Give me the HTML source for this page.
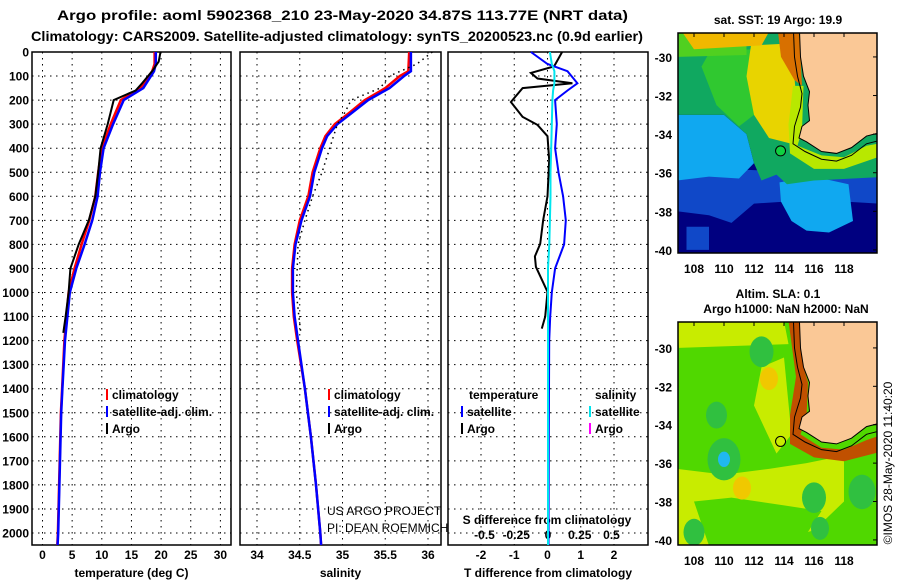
<!DOCTYPE html>
<html><head><meta charset="utf-8"><style>
html,body{margin:0;padding:0;background:#fff;}
svg{display:block;font-family:"Liberation Sans",Arial,sans-serif;font-weight:bold;}
</style></head><body>
<svg id="c" width="900" height="580" viewBox="0 0 900 580" xmlns="http://www.w3.org/2000/svg">
<text x="57" y="20" font-size="14" textLength="571" lengthAdjust="spacingAndGlyphs">Argo profile: aoml 5902368_210 23-May-2020 34.87S 113.77E (NRT data)</text>
<text x="31" y="41" font-size="14" textLength="612" lengthAdjust="spacingAndGlyphs">Climatology: CARS2009. Satellite-adjusted climatology: synTS_20200523.nc (0.9d earlier)</text>
<text x="778" y="24" font-size="12" text-anchor="middle">sat. SST: 19 Argo: 19.9</text>
<text x="778" y="298" font-size="12" text-anchor="middle">Altim. SLA: 0.1</text>
<text x="786" y="313" font-size="12" text-anchor="middle">Argo h1000: NaN h2000: NaN</text>
<text x="0" y="0" font-size="12" font-weight="normal" text-anchor="middle" transform="translate(892,463) rotate(-90)">©IMOS 28-May-2020 11:40:20</text>
<g id="g"></g>
</svg>
<script>
// ---------- data ----------
const tDepthArgo=[0,40,80,100,130,160,200,250,300,400,500,600,700,800,900,1000,1100,1168];
const tArgo=[19.9,19.6,18.5,17.8,16.8,15.7,12.0,11.5,11.0,9.8,9.4,8.9,7.8,6.1,4.7,4.4,3.9,3.5];
const tDepthClim=[0,50,80,150,200,300,400,500,600,700,800,900,1000,1200,1400,1500,1700,2000,2050];
const tClim=[18.9,18.9,18.5,16.5,13.2,11.5,10.0,9.4,8.9,7.9,6.6,5.4,4.4,3.7,3.3,3.1,2.9,2.6,2.5];
const tSat=[19.1,19.1,18.8,17.0,13.7,11.9,10.3,9.7,9.3,8.4,7.1,5.7,4.6,3.8,3.35,3.15,2.95,2.65,2.55];
const sDepthArgo=[0,50,100,150,200,250,300,400,500,600,700,800,900,1000,1100,1160];
const sArgo=[36.05,35.87,35.55,35.44,35.10,35.03,34.94,34.85,34.76,34.65,34.56,34.48,34.47,34.46,34.49,34.51];
const sDepthClim=[0,80,100,150,200,250,300,350,400,500,600,700,800,900,1000,1100,1200,1400,1600,1800,2000,2050];
const sClim=[35.78,35.77,35.67,35.50,35.26,35.09,34.91,34.80,34.74,34.65,34.60,34.50,34.44,34.41,34.41,34.43,34.47,34.56,34.63,34.69,34.74,34.75];
const sSat=[35.80,35.80,35.72,35.55,35.30,35.12,34.94,34.82,34.76,34.67,34.62,34.52,34.45,34.42,34.42,34.44,34.48,34.56,34.63,34.69,34.74,34.75];
const dDepthArgo=[0,60,87,110,130,150,208,270,303,350,450,600,698,798,850,893,997,1100,1150];
const dTArgo=[0.44,0.2,-0.5,-0.3,0.75,-0.75,-1.1,-0.75,-0.3,0,0.05,0,-0.13,-0.22,-0.38,-0.35,0,-0.07,-0.17];
const dDepthSat=[0,50,80,130,160,200,300,400,500,600,700,800,900,1000,1100,1200,1600,2050];
const dTSat=[-0.5,0,0.6,0.9,0.6,0.23,0.28,0.23,0.33,0.47,0.55,0.5,0.23,0.13,0.08,0.05,0.04,0.03];
const dSSat=[0.015,0.03,0.05,0.05,0.04,0.035,0.03,0.025,0.02,0.02,0.015,0.01,0.0,0.0,0.0,0.0,0.0,0.0];
const depthTicks=[0,100,200,300,400,500,600,700,800,900,1000,1100,1200,1300,1400,1500,1600,1700,1800,1900,2000];
const tTicks=[0,5,10,15,20,25,30];
const sTicks=[34,34.5,35,35.5,36];
const sTickLabels=['34','34.5','35','35.5','36'];
const dTTicks=[-2,-1,0,1,2];
const dSTicks=[-0.5,-0.25,0,0.25,0.5];
const dSTickLabels=['-0.5','-0.25','0','0.25','0.5'];
const lonTicks=[108,110,112,114,116,118];
const latTicks=[-30,-32,-34,-36,-38,-40];
// ---------- helpers ----------
const NS='http://www.w3.org/2000/svg';
const G=document.getElementById('g');
function el(t,a,p){const e=document.createElementNS(NS,t);for(const k in a)e.setAttribute(k,a[k]);(p||G).appendChild(e);return e;}
const Y=d=>52+d*0.2405;
const top0=52,bot=545;
function panel(name,x0,x1,xs,ticks,labels,title){
  const r=el('rect',{x:x0,y:top0,width:x1-x0,height:bot-top0,fill:'none',stroke:'#000','stroke-width':1.5});
  
  depthTicks.forEach(d=>{const l=el('line',{x1:x0,x2:x1,y1:Y(d),y2:Y(d),stroke:'#000','stroke-dasharray':'1.5,4.5'});
    });
  ticks.forEach((v,i)=>{const x=xs(v);
    const l=el('line',{x1:x,x2:x,y1:top0,y2:bot,stroke:'#000','stroke-dasharray':'1.5,4.5'});
    
    if(labels){const t=el('text',{x:x,y:559,'font-size':12,'text-anchor':'middle'});t.textContent=labels[i];
    }});
  if(title){const t=el('text',{x:(x0+x1)/2,y:577,'font-size':12,'text-anchor':'middle'});t.textContent=title;
  }
}
function line(name,xs,ys,depths,col,w,dash){
  const pts=ys.map((v,i)=>xs(v).toFixed(1)+','+Y(depths[i]).toFixed(1)).join(' ');
  const p=el('polyline',{points:pts,fill:'none',stroke:col,'stroke-width':w});
  if(dash)p.setAttribute('stroke-dasharray',dash);
  
}
function txt(name,x,y,s,size,anchor,weight){const t=el('text',{x:x,y:y,'font-size':size||12});if(anchor)t.setAttribute('text-anchor',anchor);if(weight)t.setAttribute('font-weight',weight);t.textContent=s;
  return t;}
function legend(name,x,y,col,s){const r=el('rect',{x:x,y:y-10,width:2,height:11,fill:col});
  txt(name+'-label',x+6,y,s,12);}
depthTicks.forEach(d=>txt('depth-tick-label',29,Y(d)+4.5,String(d),12,'end'));
// panel 1 temperature
const xT=v=>42.5+v*5.93;
panel('temperature-panel',32,231,xT,tTicks,tTicks.map(String),'temperature (deg C)');
line('temp-climatology',xT,tClim,tDepthClim,'#f00',2.5);
line('temp-satellite-adj',xT,tSat,tDepthClim,'#00f',2.5);
line('temp-argo',xT,tArgo,tDepthArgo,'#000',2);
legend('legend-climatology',106,399,'#f00','climatology');
legend('legend-satellite-adj',106,416,'#00f','satellite-adj. clim.');
legend('legend-argo',106,433,'#000','Argo');
// panel 2 salinity
const xS=v=>257+(v-34)*85.5;
panel('salinity-panel',240,441,xS,sTicks,sTickLabels,'salinity');
line('sal-climatology',xS,sClim,sDepthClim,'#f00',2.5);
line('sal-satellite-adj',xS,sSat,sDepthClim,'#00f',2.5);
line('sal-argo',xS,sArgo,sDepthArgo,'#000',1.5,'1.5,4');
legend('legend-s-climatology',328,399,'#f00','climatology');
legend('legend-s-satellite-adj',328,416,'#00f','satellite-adj. clim.');
legend('legend-s-argo',328,433,'#000','Argo');
txt('credit-project',327,515,'US ARGO PROJECT',12,null,'normal');
txt('credit-pi',327,532,'PI: DEAN ROEMMICH',12,null,'normal');
// panel 3 differences
const xD=v=>547.5+v*33.25;
const xDS=v=>548+v*127;
panel('difference-panel',448,648,xD,dTTicks,dTTicks.map(String),'T difference from climatology');
dSTicks.forEach((v,i)=>txt('s-diff-tick-label',xDS(v),539,dSTickLabels[i],12,'middle'));
txt('s-diff-axis-title',547,524,'S difference from climatology',12,'middle');
line('dT-argo',xD,dTArgo,dDepthArgo,'#000',2);
line('dT-satellite',xD,dTSat,dDepthSat,'#00f',2);
line('dS-satellite',xDS,dSSat,dDepthSat,'#00e5ee',2);
txt('legend-temperature-heading',469,399,'temperature',12);
txt('legend-salinity-heading',595,399,'salinity',12);
legend('legend-dT-satellite',461,416,'#00f','satellite');
legend('legend-dT-argo',461,433,'#000','Argo');
legend('legend-dS-satellite',589,416,'#00e5ee','satellite');
legend('legend-dS-argo',589,433,'#f0f','Argo');
// ---------- maps ----------
const land=[[115.0,-28],[115.1,-30],[115.3,-31],[115.7,-31.8],[115.6,-32.5],[115.7,-33.3],[115.2,-33.6],[115.0,-34.2],[115.5,-34.4],[116.5,-34.9],[117.5,-35.0],[118.5,-34.7],[119.5,-34.1],[121,-33.8],[121,-28]];
const shelf=[[114.6,-28],[114.7,-30],[114.9,-31],[115.2,-31.9],[115.1,-32.6],[114.7,-33.6],[114.6,-34.5],[115.4,-34.9],[116.5,-35.3],[117.5,-35.4],[118.5,-35.1],[119.5,-34.5],[121,-34.2]];
function map(id,y0,y1,latTop,pxLat,layers){
  const x0=678,x1=877;
  const px=lon=>694+(lon-108)*15, py=lat=>y0+(latTop-lat)*pxLat;
  const cp=el('clipPath',{id:'cp'+id});el('rect',{x:x0,y:y0,width:x1-x0,height:y1-y0},cp);
  const g=el('g',{'clip-path':'url(#cp'+id+')'});
  
  el('rect',{x:x0,y:y0,width:x1-x0,height:y1-y0,fill:layers.bg},g);
  layers.polys.forEach(p=>el('polygon',{points:p[1].map(q=>px(q[0])+','+py(q[1])).join(' '),fill:p[0]},g));
  (layers.circles||[]).forEach(c=>el('ellipse',{cx:px(c[1]),cy:py(c[2]),rx:c[3]*15,ry:c[3]*pxLat,fill:c[0]},g));
  const lp=el('polygon',{points:land.map(q=>px(q[0])+','+py(q[1])).join(' '),fill:'#fac896',stroke:'#000','stroke-width':1},g);
  
  el('polyline',{points:shelf.map(q=>px(q[0])+','+py(q[1])).join(' '),fill:'none',stroke:'#000','stroke-width':1},g);
  const fr=el('rect',{x:x0,y:y0,width:x1-x0,height:y1-y0,fill:'none',stroke:'#000','stroke-width':1.5});
  
  const fl=el('ellipse',{cx:px(113.77),cy:py(-34.87),rx:5,ry:5,fill:layers.float,stroke:'#000'});
  
  latTicks.forEach(l=>{txt('map'+id+'-lat-label',672,py(l)+5,String(l),12,'end');
    el('line',{x1:x1-4,x2:x1,y1:py(l),y2:py(l),stroke:'#000'});});
  lonTicks.forEach(l=>{txt('map'+id+'-lon-label',px(l),y1+20,String(l),12,'middle');
    el('line',{x1:px(l),x2:px(l),y1:y0,y2:y0+4,stroke:'#000'});});
}
map(1,33,253,-28.76,19.3,{bg:'#000080',float:'#10d040',polys:[
 ['#1048c8',[[106.9,-35.7],[113,-35.9],[116,-36.2],[120.3,-36.0],[120.3,-37.6],[116,-37.4],[112,-37.6],[110.5,-38.6],[109,-38.2],[106.9,-38.0]]],
 ['#10a8f0',[[106.9,-33],[110,-33],[111.5,-34],[112,-35.5],[111,-36.3],[109,-36.2],[106.9,-36.4]]],
 ['#10a8f0',[[113.7,-36.5],[116,-36.2],[118.3,-36.6],[118.6,-38.5],[117,-39.1],[115.5,-39],[114.5,-38.5],[113.8,-37.5]]],
 ['#10a860',[[106.9,-28.7],[121,-28.7],[121,-36.2],[116,-36.4],[114.2,-36.6],[113.5,-36.1],[112.5,-36.4],[112,-35.5],[111.5,-34],[110,-33],[106.9,-33]]],
 ['#30c830',[[109,-29.8],[111.8,-29.6],[112,-33],[111,-33.6],[109.5,-32.5],[108.5,-30.5]]],
 ['#50d020',[[106.9,-28.7],[111.5,-28.7],[111.5,-29.9],[106.9,-30]]],
 ['#e8d400',[[111.8,-29.4],[114.5,-29.3],[114.8,-32],[114.5,-34.5],[113,-34.2],[112,-33],[111.5,-31]]],
 ['#f0b800',[[107.2,-28.7],[113,-28.7],[112.5,-29.4],[108,-29.6]]],
 ['#d87000',[[113.6,-28.7],[115,-28.7],[115.1,-30],[115.2,-31.5],[114.7,-31.2],[113.8,-30.0]]],
 ['#b8e800',[[114.6,-31.5],[115.3,-31.5],[115.2,-33.8],[114.9,-34.6],[116.5,-35.1],[118,-35.2],[119.5,-34.6],[121,-34.4],[121,-35.0],[118,-35.8],[116,-35.8],[114.4,-35.0],[114.3,-33.5]]],
 ['#1048c8',[[107.5,-38.8],[109,-38.8],[109,-40],[107.5,-40]]]
]});
map(2,322,545,-28.65,19.2,{bg:'#50d800',float:'none',polys:[
 ['#c8ec00',[[106.9,-36.3],[110,-36.6],[113,-36.3],[115.5,-36],[118,-35.6],[118,-38],[116,-39.5],[112,-40.3],[106.9,-40.3]]],
 ['#50d800',[[108,-38],[110.5,-37.8],[114,-38.2],[116.5,-38.5],[115,-40.3],[109,-40.3]]],
 ['#c8ec00',[[112.5,-31],[114,-30.5],[114.5,-34.5],[113.5,-35.5],[112,-33]]],
 ['#c8ec00',[[106.9,-28.6],[114,-28.6],[114.3,-29.8],[107,-30]]],
 ['#c05000',[[114.3,-28.6],[115.2,-28.6],[115.3,-31],[115.6,-31.8],[115.5,-33.6],[115.1,-34.5],[116.5,-35.2],[118,-35.3],[119.5,-34.8],[121,-34.4],[121,-35.3],[118,-35.9],[116,-35.7],[114.4,-35],[114.4,-33.5],[114.8,-31.5]]]
],circles:[
 ['#30c040',110,-35.8,1.1],['#20b8f0',110,-35.8,0.4],['#30c040',116,-37.8,0.8],['#30c040',119.2,-37.5,0.9],
 ['#30c040',109.5,-33.5,0.7],['#30c040',112.5,-30.2,0.8],['#f0c800',113,-31.6,0.6],['#f0c800',111.2,-37.3,0.6],
 ['#30c040',108,-39.6,0.7],['#30c040',116.4,-39.4,0.6]
]});
</script>
</body></html>
